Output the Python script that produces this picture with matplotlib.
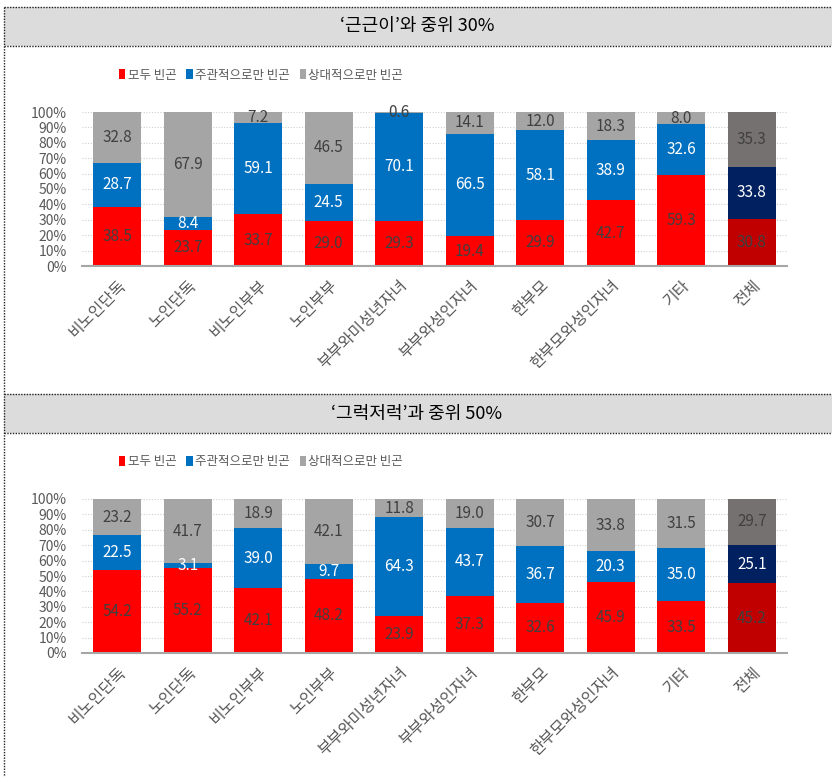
import matplotlib.pyplot as plt
from matplotlib.patches import Rectangle, Patch
from matplotlib.lines import Line2D

plt.rcParams['font.family'] = ['Noto Sans CJK KR', 'DejaVu Sans']

categories = ['비노인단독', '노인단독', '비노인부부', '노인부부', '부부와미성년자녀',
              '부부와성인자녀', '한부모', '한부모와성인자녀', '기타', '전체']
series_names = ['모두 빈곤', '주관적으로만 빈곤', '상대적으로만 빈곤']

# '근근이'와 중위 30%
top_both = [38.5, 23.7, 33.7, 29.0, 29.3, 19.4, 29.9, 42.7, 59.3, 30.8]
top_subj = [28.7, 8.4, 59.1, 24.5, 70.1, 66.5, 58.1, 38.9, 32.6, 33.8]
top_rel = [32.8, 67.9, 7.2, 46.5, 0.6, 14.1, 12.0, 18.3, 8.0, 35.3]

# '그럭저럭'과 중위 50%
bot_both = [54.2, 55.2, 42.1, 48.2, 23.9, 37.3, 32.6, 45.9, 33.5, 45.2]
bot_subj = [22.5, 3.1, 39.0, 9.7, 64.3, 43.7, 36.7, 20.3, 35.0, 25.1]
bot_rel = [23.2, 41.7, 18.9, 42.1, 11.8, 19.0, 30.7, 33.8, 31.5, 29.7]

W, H = 832, 777
colors = ['#FF0000', '#0070C0', '#A5A5A5']
total_colors = ['#C00000', '#002060', '#767171']
label_colors = ['#404040', 'white', '#404040']
tick_color = '#595959'

fig = plt.figure(figsize=(W / 100, H / 100), dpi=100)


def fx(px):
    return px / W


def fy(py):
    return 1 - py / H


def dotted_line(x0, y0, x1, y1):
    fig.add_artist(Line2D([fx(x0), fx(x1)], [fy(y0), fy(y1)], color='#222222',
                          lw=1.0, linestyle=(0, (1, 1))))


def title_band(y_top, y_bot, text):
    fig.add_artist(Rectangle((fx(3.5), fy(y_bot)), fx(W) - fx(3.5), fy(y_top) - fy(y_bot),
                             facecolor='#DCDCDC', edgecolor='none'))
    dotted_line(3.5, y_top, W, y_top)
    dotted_line(3.5, y_bot, W, y_bot)
    fig.text(fx(417), fy((y_top + y_bot) / 2), text, ha='center', va='center',
             fontsize=13, color='black')


def stacked_chart(y_top, y_bot, legend_y, series):
    ax = fig.add_axes([fx(82), fy(y_bot), fx(787) - fx(82), fy(y_top) - fy(y_bot)])
    x = list(range(len(categories)))
    bottoms = [0.0] * len(categories)
    for k, vals in enumerate(series):
        bar_colors = [colors[k]] * (len(categories) - 1) + [total_colors[k]]
        ax.bar(x, vals, width=0.68, bottom=bottoms, color=bar_colors, zorder=2)
        for i, v in enumerate(vals):
            ax.text(i, bottoms[i] + v / 2, f'{v:.1f}', ha='center', va='center',
                    fontsize=11, color=label_colors[k], zorder=3)
        bottoms = [b + v for b, v in zip(bottoms, vals)]

    ax.set_xlim(-0.5, len(categories) - 0.5)
    ax.set_ylim(0, 100)
    ax.set_yticks(range(0, 101, 10))
    ax.set_yticklabels([f'{t}%' for t in range(0, 101, 10)])
    ax.set_xticks(x)
    ax.set_xticklabels(categories, rotation=45, ha='right', rotation_mode='anchor')
    ax.tick_params(axis='both', length=0, colors=tick_color, labelsize=10)
    ax.tick_params(axis='x', labelsize=11.5, pad=8)
    ax.tick_params(axis='y', pad=11)
    ax.grid(axis='y', color='#D0D0D0', linestyle=(0, (1, 1.5)), lw=0.8, zorder=0)
    for side in ['top', 'right', 'left']:
        ax.spines[side].set_visible(False)
    ax.spines['bottom'].set_color('#A6A6A6')
    ax.spines['bottom'].set_linewidth(1.5)
    ax.spines['bottom'].set_zorder(4)

    handles = [Patch(facecolor=c) for c in colors]
    fig.legend(handles, series_names, loc='center', bbox_to_anchor=(fx(261), fy(legend_y)),
               ncol=3, frameon=False, fontsize=9, handlelength=0.5, handleheight=0.8,
               handletextpad=0.2, columnspacing=0.8, labelcolor=tick_color)


title_band(7, 46, '‘근근이’와 중위 30%')
stacked_chart(112, 266, 75, [top_both, top_subj, top_rel])

title_band(394, 433, '‘그럭저럭’과 중위 50%')
stacked_chart(499, 653, 462, [bot_both, bot_subj, bot_rel])

# left edge of the outer frame
dotted_line(3.5, 7, 3.5, H)

fig.savefig('out.png', dpi=100)
